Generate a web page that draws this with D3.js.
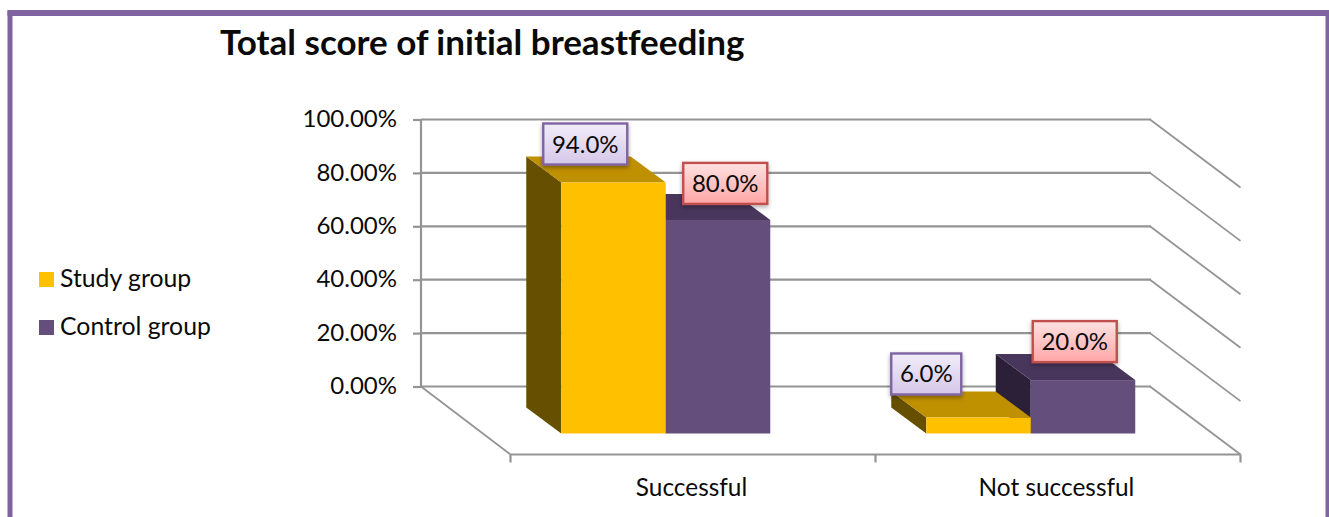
<!DOCTYPE html>
<html lang="en">
<head>
<meta charset="UTF-8">
<title>Total score of initial breastfeeding</title>
<style>
    html, body { margin: 0; padding: 0; background: #fff; overflow: hidden; }
    svg { display: block; }
    text { font-family: Lato, "Open Sans", sans-serif; fill: #0a0a0a; font-variant-ligatures: none; }
    .title { font-size: 35px; font-weight: 700; }
    .tick text { font-size: 24px; }
    .cat { font-size: 24.4px; }
    .leg { font-size: 24.8px; }
    .lab { font-size: 24px; text-anchor: middle; }
    .grid { stroke: #949494; stroke-width: 2.2; fill: none; }
    .gridSide { stroke: #949494; stroke-width: 1.8; fill: none; }
</style>
</head>
<body>
<svg id="chart" width="1329" height="517"></svg>
<script src="https://cdn.jsdelivr.net/npm/d3@7"></script>
<script>
var categories = ["Successful", "Not successful"];
var seriesNames = ["Study group", "Control group"];
var studyValues = [94, 6];
var controlValues = [80, 20];
var valueLabels = [["94.0%", "6.0%"], ["80.0%", "20.0%"]];
var yTicks = [0, 20, 40, 60, 80, 100];

var title = "Total score of initial breastfeeding";

var colors = [
    {front: "#ffc000", top: "#bf9000", side: "#665000"},
    {front: "#634e7c", top: "#48365c", side: "#2b2038"}
];
var boxStyles = [
    {stroke: "#8064a2", grad: "boxPurple"},
    {stroke: "#c0504d", grad: "boxRed"}
];
// label boxes were moved by hand in the original, offset from bar front top-left
var labelNudge = [
    [{dx: -18, dy: -59}, {dx: -35, dy: -64}],
    [{dx: 17.5, dy: -57}, {dx: 2, dy: -59}]
];

var svg = d3.select("#chart");

var defs = svg.append("defs");
function addGrad(id, c1, c2) {
    var g = defs.append("linearGradient").attr("id", id).attr("x1", 0).attr("y1", 0).attr("x2", 0).attr("y2", 1);
    g.append("stop").attr("offset", "0%").attr("stop-color", c1);
    g.append("stop").attr("offset", "100%").attr("stop-color", c2);
}
addGrad("boxPurple", "#f1edf9", "#d5c7e9");
addGrad("boxRed", "#ffe2e2", "#ffa5a5");
defs.append("filter").attr("id", "shadow")
    .attr("x", "-20%").attr("y", "-20%").attr("width", "140%").attr("height", "150%")
    .append("feDropShadow")
    .attr("dx", 0).attr("dy", 2).attr("stdDeviation", 2)
    .attr("flood-color", "#000").attr("flood-opacity", 0.35);

// purple frame, bottom edge runs off the picture
svg.append("path")
    .attr("d", "M10 530V13H1328V530")
    .attr("fill", "#fff")
    .attr("stroke", "#8064a2")
    .attr("stroke-width", 5);
svg.append("rect").attr("x", 7.5).attr("y", 10).attr("width", 1322).attr("height", 6).attr("fill", "#8064a2");

svg.append("text").attr("class", "title").attr("x", 220).attr("y", 55).text(title);

// back wall of the 3d box
var wallLeft = 421, wallRight = 1151, wallTop = 119.5, wallBottom = 386.5;
var floorDx = 89.5, floorDy = 68;
// bars sit in the middle of the floor depth
var barDx = 35, barDy = 26;
var frontDx = (floorDx - barDx) / 2 + barDx, frontDy = (floorDy - barDy) / 2 + barDy;

var y = d3.scaleLinear().domain([0, 100]).range([wallBottom, wallTop]);
var x0 = d3.scaleBand().domain(categories).range([wallLeft, wallRight]);
var x1 = d3.scaleBand().domain(seriesNames).range([x0.bandwidth() / 2 - 104.5, x0.bandwidth() / 2 + 104.5]);

// gridlines
var gridG = svg.append("g");
yTicks.forEach(function (t) {
    gridG.append("line").attr("class", "grid")
        .attr("x1", wallLeft).attr("x2", wallRight).attr("y1", y(t)).attr("y2", y(t));
    gridG.append("line").attr("class", "gridSide")
        .attr("x1", wallRight - 1).attr("y1", y(t))
        .attr("x2", wallRight + floorDx).attr("y2", y(t) + floorDy);
});
gridG.append("line").attr("class", "gridSide")
    .attr("x1", wallLeft).attr("y1", y(0))
    .attr("x2", wallLeft + floorDx).attr("y2", y(0) + floorDy);
gridG.append("line").attr("class", "grid")
    .attr("x1", wallLeft).attr("x2", wallLeft).attr("y1", y(100)).attr("y2", y(0));

// y axis
var yAxis = d3.axisLeft(y)
    .tickValues(yTicks)
    .tickSize(8)
    .tickPadding(16)
    .tickFormat(function (d) { return d3.format(".2f")(d) + "%"; });
var yG = svg.append("g").attr("transform", "translate(" + wallLeft + ",0)").call(yAxis);
yG.select(".domain").remove();
yG.selectAll(".tick line").attr("stroke", "#949494").attr("stroke-width", 2.2);
yG.selectAll(".tick text").attr("fill", "#0a0a0a").attr("font-family", null).attr("dy", "0.30em");

// x axis on the front floor edge
var xFront = d3.scaleBand().domain(categories).range([wallLeft + floorDx, wallRight + floorDx]);
var xG = svg.append("g").attr("transform", "translate(0," + (y(0) + floorDy) + ")");
xG.append("line").attr("class", "grid").attr("x1", xFront.range()[0]).attr("x2", xFront.range()[1]);
xFront.domain().forEach(function (c) {
    xG.append("line").attr("class", "grid")
        .attr("x1", xFront(c)).attr("x2", xFront(c)).attr("y1", 0).attr("y2", 8);
    xG.append("text").attr("class", "cat").attr("text-anchor", "middle")
        .attr("x", xFront(c) + xFront.bandwidth() / 2 - 1.5).attr("y", 41).text(c);
});
xG.append("line").attr("class", "grid")
    .attr("x1", xFront.range()[1]).attr("x2", xFront.range()[1]).attr("y1", 0).attr("y2", 8);

// bars, control first so the study bar overlaps it
var base = y(0) + frontDy;
function barFront(cat, name) {
    return x0(cat) + x1(name) + frontDx;
}
function drawBar(g, cat, name, v, col) {
    var left = barFront(cat, name), w = x1.bandwidth();
    var top = base - (y(0) - y(v));
    var pts = function (a) { return a.map(function (p) { return p.join(","); }).join(" "); };
    g.append("polygon").attr("fill", col.side).attr("points", pts([
        [left, top], [left - barDx, top - barDy], [left - barDx, base - barDy], [left, base]
    ]));
    g.append("polygon").attr("fill", col.top).attr("points", pts([
        [left, top], [left - barDx, top - barDy], [left + w - barDx, top - barDy], [left + w, top]
    ]));
    g.append("rect").attr("fill", col.front)
        .attr("x", left).attr("y", top).attr("width", w).attr("height", base - top);
}
var barsG = svg.append("g");
categories.forEach(function (c, i) {
    drawBar(barsG, c, seriesNames[1], controlValues[i], colors[1]);
});
categories.forEach(function (c, i) {
    drawBar(barsG, c, seriesNames[0], studyValues[i], colors[0]);
});

// value labels
var labG = svg.append("g");
[studyValues, controlValues].forEach(function (vals, s) {
    categories.forEach(function (c, i) {
        var left = barFront(c, seriesNames[s]);
        var top = base - (y(0) - y(vals[i]));
        var n = labelNudge[s][i];
        var txt = labG.append("text").attr("class", "lab").text(valueLabels[s][i]);
        var w = Math.round(txt.node().getComputedTextLength()) + 17;
        var bx = left + n.dx, by = top + n.dy;
        labG.insert("rect", "text:last-of-type")
            .attr("x", bx).attr("y", by).attr("width", w).attr("height", 41)
            .attr("fill", "url(#" + boxStyles[s].grad + ")")
            .attr("stroke", boxStyles[s].stroke).attr("stroke-width", 2.4)
            .attr("filter", "url(#shadow)");
        txt.attr("x", bx + w / 2).attr("y", by + 29);
    });
});

// legend
var legY = d3.scalePoint().domain(seriesNames).range([279.5, 327.5]);
seriesNames.forEach(function (name, i) {
    svg.append("rect").attr("x", 39).attr("y", legY(name) - 7.5).attr("width", 15).attr("height", 15)
        .attr("fill", colors[i].front);
    svg.append("text").attr("class", "leg").attr("x", 60).attr("y", legY(name) + 7).text(name);
});
</script>
</body>
</html>
